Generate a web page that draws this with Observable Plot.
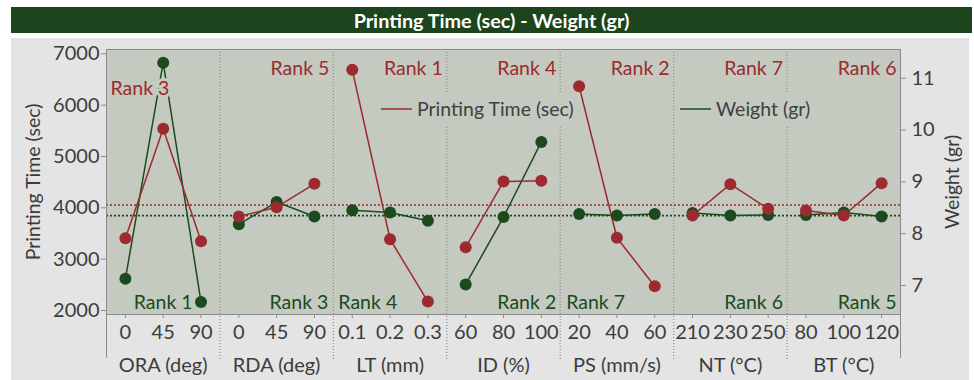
<!DOCTYPE html>
<html><head><meta charset="utf-8">
<script src="https://cdn.jsdelivr.net/npm/d3@7"></script>
<script src="https://cdn.jsdelivr.net/npm/@observablehq/plot@0.6"></script>
<style>
body{margin:0;background:#fff;font-family:Lato,"Noto Sans",sans-serif;}
#title{position:absolute;left:11px;top:7px;width:961px;height:26px;background:#1c451d;color:#fff;font-weight:bold;font-size:19.8px;line-height:26px;text-align:center;font-family:Lato,sans-serif;}
#panel{position:absolute;left:11px;top:38px;width:958px;height:342px;background:#e4e4e4;}
#panel svg{font-family:Lato,sans-serif;}
</style></head><body>
<div id="title">Printing Time (sec) - Weight (gr)</div>
<div id="panel"></div>
<script>
// ---- data ----
const factors = ["ORA (deg)", "RDA (deg)", "LT (mm)", "ID (%)", "PS (mm/s)", "NT (°C)", "BT (°C)"];
const levels = [["0","45","90"], ["0","45","90"], ["0.1","0.2","0.3"], ["60","80","100"], ["20","40","60"], ["210","230","250"], ["80","100","120"]];
const printingTime = [[3408,5539,3350], [3830,4012,4467], [6688,3388,2174], [3233,4512,4526], [6369,3416,2472], [3850,4461,3980], [3947,3850,4480]];
const weight = [[7.13,11.30,6.68], [8.18,8.61,8.33], [8.45,8.41,8.25], [7.02,8.32,9.77], [8.38,8.35,8.38], [8.40,8.35,8.36], [8.36,8.41,8.33]];
const timeRanks = ["Rank 3","Rank 5","Rank 1","Rank 4","Rank 2","Rank 7","Rank 6"];
const weightRanks = ["Rank 1","Rank 3","Rank 4","Rank 2","Rank 7","Rank 6","Rank 5"];
const timeTicks = [2000,3000,4000,5000,6000,7000];
const weightTicks = [7,8,9,10,11];
const timeMean = 4055;
const weightMean = 8.35;

// ---- styling / layout ----
const RED = "#9c2a2e", GREEN = "#1b4a1f", PLOTBG = "#c4cac0", AXIS = "#8a8a8a", TXT = "#3c3c3c";
const FS_TICK = 20, FS_LAB = 19.5;
const yDomain = [1922, 7084];          // left axis (sec)
const wDomain = [6.44, 11.554];        // right axis (gr)
const xDomain = [-0.5, factors.length * 3 - 0.5];
const wToY = w => yDomain[0] + (w - wDomain[0]) * (yDomain[1] - yDomain[0]) / (wDomain[1] - wDomain[0]);

const rows = [];
factors.forEach((f, i) => levels[i].forEach((l, j) => rows.push({
  i, x: i * 3 + j, level: l, factor: f, time: printingTime[i][j], weight: weight[i][j]
})));
const flatLevels = rows.map(d => d.level);
const seps = d3.range(1, factors.length).map(k => k * 3 - 0.5);

// rank label placement (layout only)
const redLab = timeRanks.map((t, i) => i === 0
  ? {x: i * 3 - 0.5, text: t, anchor: "start", dx: 4, dy: 39}
  : {x: i * 3 + 2.5, text: t, anchor: "end", dx: -4, dy: 19});
const greenLayout = [["middle", 1, 0], ["end", 2.5, -5], ["start", -0.5, 5], ["end", 2.5, -4], ["start", -0.5, 6], ["end", 2.5, -4], ["end", 2.5, -4]];
const greenLab = weightRanks.map((t, i) => ({x: i * 3 + greenLayout[i][1], text: t, anchor: greenLayout[i][0], dx: greenLayout[i][2], dy: -12}));

const rankMarks = [
  ...redLab.map(d => Plot.text([d], {x: "x", text: "text", textAnchor: d.anchor, frameAnchor: "top", dx: d.dx, dy: d.dy, lineAnchor: "middle",
    fill: RED, fontSize: FS_LAB, stroke: PLOTBG, strokeWidth: 6})),
  ...greenLab.map(d => Plot.text([d], {x: "x", text: "text", textAnchor: d.anchor, frameAnchor: "bottom", dx: d.dx, dy: d.dy, lineAnchor: "middle",
    fill: GREEN, fontSize: FS_LAB, stroke: PLOTBG, strokeWidth: 6}))
];

function legend(index, scales, values, dim) {
  const g = d3.create("svg:g").attr("text-anchor", "start");
  const entries = [
    {label: "Printing Time (sec)", color: RED, x: 370, box: [365, 571]},
    {label: "Weight (gr)", color: GREEN, x: 669, box: [665, 808]}
  ];
  const yc = dim.marginTop + 60;
  for (const e of entries) {
    g.append("rect").attr("x", e.box[0]).attr("y", yc - 16).attr("width", e.box[1] - e.box[0]).attr("height", 33).attr("fill", PLOTBG);
    g.append("line").attr("x1", e.x).attr("x2", e.x + 31).attr("y1", yc).attr("y2", yc).attr("stroke", e.color).attr("stroke-width", 1.5);
    g.append("text").attr("x", e.x + 36).attr("y", yc).attr("dy", "0.35em").attr("text-anchor", "start")
      .attr("fill", "#404040").attr("font-size", FS_LAB).text(e.label);
  }
  return g.node();
}

const chart = Plot.plot({
  width: 958, height: 342,
  marginLeft: 95, marginRight: 69, marginTop: 11, marginBottom: 66,
  style: {background: "transparent", fontFamily: "Lato, sans-serif"},
  x: {domain: xDomain, axis: null},
  y: {domain: yDomain, axis: null},
  marks: [
    Plot.frame({fill: PLOTBG, stroke: AXIS, strokeWidth: 1}),
    Plot.ruleX(seps, {stroke: "#8c8c8c", strokeDasharray: "1,2", strokeWidth: 1.2, insetBottom: -46}),
    legend,
    Plot.ruleY([timeMean], {stroke: RED, strokeDasharray: "2,2", strokeWidth: 1.5}),
    Plot.ruleY([wToY(weightMean)], {stroke: GREEN, strokeDasharray: "2,2", strokeWidth: 1.8}),
    Plot.line(rows, {x: "x", y: d => wToY(d.weight), z: "factor", stroke: GREEN, strokeWidth: 1.5}),
    Plot.line(rows, {x: "x", y: "time", z: "factor", stroke: RED, strokeWidth: 1.5}),
    ...rankMarks,
    Plot.dot(rows, {x: "x", y: d => wToY(d.weight), r: 6, fill: GREEN}),
    Plot.dot(rows, {x: "x", y: "time", r: 6, fill: RED}),
    // axis lines
    Plot.ruleX([xDomain[0], xDomain[1]], {stroke: AXIS, insetBottom: -44}),
    Plot.ruleY([yDomain[0]], {stroke: AXIS}),
    Plot.axisY({anchor: "left", ticks: timeTicks, tickFormat: d => String(d), tickSize: 5, tickPadding: 2, fontSize: FS_TICK, stroke: AXIS, fill: TXT, label: null}),
    Plot.axisY({anchor: "right", ticks: weightTicks.map(wToY), tickFormat: (d, i) => String(weightTicks[i]), tickSize: 5, tickPadding: 6, fontSize: FS_TICK, stroke: AXIS, fill: TXT, label: null}),
    Plot.axisX({anchor: "bottom", ticks: d3.range(rows.length), tickFormat: (d, i) => flatLevels[i], tickSize: 4, tickPadding: 6, fontSize: FS_TICK, stroke: AXIS, fill: TXT, label: null}),
    Plot.axisX({anchor: "bottom", ticks: factors.map((f, i) => i * 3 + 1), tickFormat: (d, i) => factors[i], tickSize: 0, tickPadding: 43, fontSize: FS_TICK, fill: TXT, label: null}),
    Plot.text(["Printing Time (sec)"], {frameAnchor: "left", textAnchor: "middle", rotate: -90, dx: -73, fontSize: FS_LAB, fill: TXT}),
    Plot.text(["Weight (gr)"], {frameAnchor: "right", textAnchor: "middle", rotate: -90, dx: 52, fontSize: FS_LAB, fill: TXT})
  ]
});
document.getElementById("panel").appendChild(chart);
</script>
</body></html>
